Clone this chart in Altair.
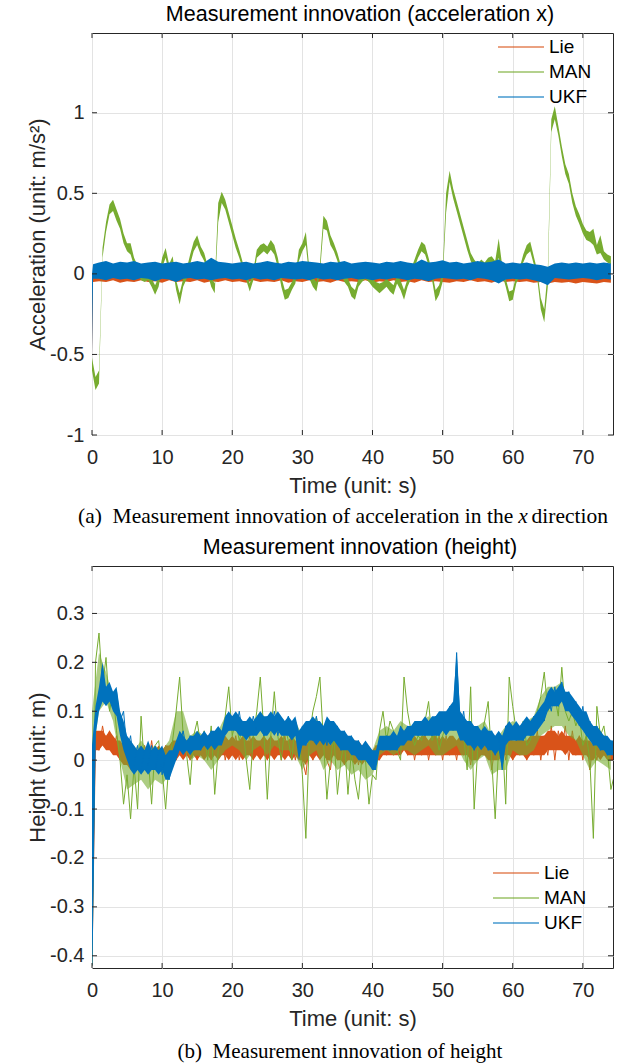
import altair as alt
import pandas as pd

FONT = "Liberation Sans"
SERIF = "Liberation Serif"
INK = "#262626"
GRID = "#e3e3e3"

SERIES = ["Lie", "MAN", "UKF"]
COLORS = {"Lie": "#D95319", "MAN": "#77AC30", "UKF": "#0072BD"}

X_TICKS = [0, 10, 20, 30, 40, 50, 60, 70]
TOP_Y_TICKS = [-1, -0.5, 0, 0.5, 1]
BOT_Y_TICKS = [-0.4, -0.3, -0.2, -0.1, 0, 0.1, 0.2, 0.3]
X_DOMAIN = [0, 74.3]
TOP_Y_DOMAIN = [-1, 1.495]
BOT_Y_DOMAIN = [-0.425, 0.397]

# ---------------- top panel (acceleration x): envelopes ----
T_BAND = [0.0, 0.15] + [float(s) for s in range(1, 75)]
LIE_TOP_LO = [-0.5, -0.05,
              -0.045, -0.05, -0.04, -0.055, -0.045, -0.05, -0.04, -0.05, -0.045, -0.055,
              -0.04, -0.05, -0.045, -0.05, -0.04, -0.055, -0.045, -0.05, -0.04, -0.05,
              -0.045, -0.055, -0.04, -0.05, -0.045, -0.05, -0.04, -0.055, -0.045, -0.05,
              -0.04, -0.05, -0.045, -0.055, -0.04, -0.05, -0.045, -0.05, -0.04, -0.055,
              -0.045, -0.05, -0.04, -0.05, -0.045, -0.055, -0.04, -0.05, -0.045, -0.05,
              -0.055, -0.045, -0.05, -0.04, -0.05, -0.045, -0.055, -0.04, -0.05, -0.045,
              -0.05, -0.045, -0.055, -0.05, -0.06, -0.05, -0.055, -0.05, -0.06, -0.05,
              -0.055, -0.06, -0.05, -0.055]
LIE_TOP_HI = [0.0, -0.01,
              -0.01, 0.0, -0.015, -0.005, -0.01, 0.0, -0.01, -0.015, 0.0, -0.01,
              -0.005, 0.01, -0.01, -0.005, 0.0, -0.01, -0.005, 0.02, -0.01, 0.0,
              -0.01, -0.005, 0.0, -0.01, -0.015, 0.0, -0.01, -0.005, 0.0, -0.01,
              -0.005, 0.0, 0.015, -0.01, -0.005, 0.0, -0.01, -0.005, 0.0, -0.01,
              -0.005, 0.0, -0.01, -0.005, 0.0, -0.01, -0.005, 0.0, -0.01, 0.01,
              -0.005, 0.0, -0.01, -0.005, 0.0, -0.01, -0.005, 0.0, -0.01, -0.005,
              -0.01, -0.015, -0.01, -0.015, -0.02, -0.02, -0.015, -0.02, -0.015, -0.02,
              -0.015, -0.02, -0.015, -0.02]
UKF_TOP_LO = [-0.5, -0.03,
              -0.03, -0.04, -0.025, -0.035, -0.03, -0.04, -0.025, -0.03, -0.045, -0.03,
              -0.035, -0.05, -0.03, -0.025, -0.035, -0.03, -0.04, -0.03, -0.025, -0.035,
              -0.03, -0.04, -0.025, -0.035, -0.03, -0.04, -0.025, -0.03, -0.035, -0.03,
              -0.04, -0.025, -0.035, -0.03, -0.04, -0.03, -0.025, -0.035, -0.03, -0.04,
              -0.03, -0.035, -0.025, -0.03, -0.04, -0.03, -0.035, -0.045, -0.03, -0.025,
              -0.03, -0.035, -0.03, -0.04, -0.025, -0.03, -0.04, -0.06, -0.035, -0.03,
              -0.035, -0.03, -0.04, -0.05, -0.07, -0.025, -0.03, -0.035, -0.03, -0.025,
              -0.03, -0.04, -0.03, -0.035]
UKF_TOP_HI = [0.0, 0.06,
              0.07, 0.08, 0.065, 0.075, 0.07, 0.08, 0.065, 0.07, 0.075, 0.065,
              0.07, 0.075, 0.065, 0.07, 0.08, 0.07, 0.1, 0.075, 0.07, 0.065,
              0.07, 0.075, 0.065, 0.07, 0.08, 0.07, 0.065, 0.075, 0.07, 0.08,
              0.075, 0.07, 0.065, 0.075, 0.07, 0.08, 0.065, 0.07, 0.075, 0.07,
              0.065, 0.075, 0.07, 0.08, 0.07, 0.065, 0.09, 0.07, 0.075, 0.085,
              0.07, 0.075, 0.065, 0.07, 0.08, 0.07, 0.075, 0.09, 0.065, 0.07,
              0.065, 0.07, 0.06, 0.055, 0.045, 0.065, 0.07, 0.065, 0.07, 0.065,
              0.07, 0.065, 0.07, 0.065]

T_MAN = [i * 0.5 for i in range(149)]
MAN_TOP_LO = [-0.60, -0.72, -0.68, 0.10, 0.26, 0.37, 0.39, 0.33, 0.28, 0.19,
              0.14, 0.12, 0.05, 0.00, -0.04, -0.05, -0.04, -0.08, -0.13, -0.08,
              0.04, 0.10, 0.00, 0.04, -0.10, -0.19, -0.08, -0.03, 0.06, 0.14,
              0.18, 0.12, 0.08, 0.00, -0.08, -0.12, 0.32, 0.44, 0.40, 0.32,
              0.24, 0.16, 0.10, 0.03, -0.04, -0.11, -0.04, 0.10, 0.12, 0.14,
              0.12, 0.15, 0.12, 0.04, -0.08, -0.16, -0.15, -0.10, -0.06, 0.08,
              0.14, 0.18, -0.03, -0.08, -0.11, 0.00, 0.28, 0.27, 0.18, 0.14,
              0.08, 0.00, -0.05, -0.08, -0.14, -0.16, -0.08, -0.05, -0.03, -0.05,
              -0.08, -0.10, -0.12, -0.10, -0.08, -0.11, -0.13, -0.06, -0.10, -0.16,
              -0.08, -0.03, 0.04, 0.10, 0.14, 0.12, 0.05, -0.04, -0.17, -0.13,
              -0.05, 0.38, 0.57, 0.47, 0.39, 0.31, 0.23, 0.15, 0.08, 0.04,
              0.00, 0.04, 0.02, 0.05, 0.06, 0.02, 0.10, 0.00, -0.08, -0.17,
              -0.16, -0.06, -0.01, 0.07, 0.12, 0.14, 0.06, -0.03, -0.22, -0.30,
              -0.08, 0.88, 0.96, 0.86, 0.73, 0.62, 0.56, 0.44, 0.36, 0.31,
              0.25, 0.21, 0.20, 0.18, 0.12, 0.13, 0.09, 0.07, 0.06]
MAN_TOP_HI = [-0.52, -0.64, -0.60, 0.16, 0.32, 0.43, 0.46, 0.40, 0.34, 0.25,
              0.19, 0.19, 0.10, 0.05, 0.01, 0.00, 0.02, -0.03, -0.07, -0.02,
              0.10, 0.16, 0.06, 0.11, -0.04, -0.12, -0.03, 0.03, 0.12, 0.20,
              0.24, 0.17, 0.13, 0.05, -0.02, -0.06, 0.44, 0.51, 0.46, 0.38,
              0.30, 0.22, 0.15, 0.07, 0.01, -0.06, 0.02, 0.15, 0.18, 0.19,
              0.17, 0.21, 0.18, 0.10, -0.02, -0.10, -0.09, -0.05, -0.01, 0.15,
              0.19, 0.26, 0.03, -0.02, -0.05, 0.06, 0.36, 0.33, 0.24, 0.19,
              0.13, 0.05, 0.01, -0.03, -0.08, -0.10, -0.03, 0.01, 0.02, 0.01,
              -0.03, -0.05, -0.06, -0.05, -0.03, -0.05, -0.07, -0.01, -0.04, -0.10,
              -0.03, 0.03, 0.09, 0.15, 0.20, 0.18, 0.10, 0.01, -0.10, -0.07,
              0.01, 0.50, 0.64, 0.53, 0.45, 0.37, 0.29, 0.21, 0.13, 0.09,
              0.06, 0.09, 0.07, 0.10, 0.11, 0.08, 0.22, 0.05, -0.03, -0.11,
              -0.10, -0.01, 0.04, 0.12, 0.18, 0.20, 0.11, 0.02, -0.15, -0.22,
              0.02, 0.96, 1.04, 0.92, 0.79, 0.68, 0.62, 0.50, 0.42, 0.37,
              0.31, 0.27, 0.26, 0.28, 0.18, 0.24, 0.14, 0.12, 0.11]

# ---------------- bottom panel (height) ----
T_BOT = [i * 0.5 for i in range(150)]
T_BOT_1S = [float(s) for s in range(75)]
# noisy traces, every 0.5 s
LIE_BOT = [-0.42, 0.05, 0.02, 0.07, 0.03, 0.06, 0.02, 0.05, 0.00, 0.04,
           -0.01, 0.03, -0.02, 0.02, -0.01, 0.03, -0.02, 0.04, -0.01, 0.02,
           -0.02, 0.03, -0.01, 0.04, 0.00, 0.05, 0.01, 0.04, 0.00, 0.04,
           0.00, 0.04, 0.01, 0.05, 0.00, 0.04, 0.01, 0.05, 0.00, 0.04,
           0.01, 0.05, 0.00, 0.04, 0.01, 0.05, 0.00, 0.04, 0.01, 0.05,
           0.00, 0.05, 0.01, 0.04, 0.00, 0.05, 0.01, 0.04, 0.00, 0.05,
           0.00, -0.03, 0.04, 0.00, 0.05, 0.01, 0.04, 0.00, -0.02, 0.04,
           0.00, 0.04, -0.01, 0.03, 0.00, 0.04, -0.01, 0.03, 0.00, 0.02,
           -0.01, 0.03, 0.00, 0.04, 0.01, 0.05, 0.01, 0.04, 0.01, 0.06,
           0.01, 0.05, 0.00, 0.04, 0.01, 0.05, 0.00, 0.04, 0.01, 0.05,
           0.00, 0.05, 0.01, 0.04, 0.00, 0.05, 0.01, 0.04, -0.01, 0.04,
           0.00, 0.04, 0.01, 0.05, -0.02, 0.03, 0.00, 0.04, 0.00, 0.05,
           0.00, 0.04, 0.01, 0.05, 0.00, 0.04, 0.01, 0.06, 0.00, 0.05,
           0.01, 0.07, 0.00, 0.06, 0.02, 0.07, 0.00, 0.06, 0.01, 0.05,
           0.00, 0.05, -0.02, 0.04, 0.00, 0.04, 0.01, 0.04, 0.00, 0.03]
MAN_BOT = [-0.42, 0.20, 0.26, 0.15, 0.21, 0.10, 0.14, 0.06, 0.00, -0.09,
           -0.03, -0.12, -0.01, -0.10, 0.09, -0.02, 0.01, -0.09, 0.03, 0.04,
           -0.02, -0.10, 0.00, 0.04, 0.10, 0.17, 0.05, 0.01, -0.05, 0.05,
           0.08, 0.03, 0.06, 0.00, 0.07, -0.07, 0.02, 0.05, 0.09, 0.15,
           0.05, 0.08, 0.04, 0.07, 0.00, -0.06, 0.05, 0.10, 0.17, 0.06,
           -0.08, 0.05, 0.14, 0.05, 0.00, 0.07, 0.04, 0.00, 0.08, 0.05,
           -0.03, -0.16, 0.05, 0.10, 0.13, 0.17, 0.04, -0.08, 0.00, 0.05,
           -0.07, 0.00, 0.04, -0.07, 0.02, -0.04, -0.08, 0.01, 0.00, -0.09,
           -0.03, -0.04, 0.06, 0.10, 0.04, 0.08, 0.06, 0.02, 0.00, 0.17,
           0.10, 0.06, 0.03, 0.05, 0.04, 0.08, 0.12, 0.04, 0.06, 0.02,
           0.05, 0.07, 0.09, 0.06, 0.13, 0.08, 0.05, -0.02, 0.15, -0.10,
           0.02, 0.05, 0.08, 0.12, 0.00, -0.12, 0.03, 0.05, -0.09, 0.17,
           0.11, 0.06, 0.05, 0.08, 0.03, 0.04, 0.07, 0.10, 0.13, 0.18,
           0.10, 0.12, 0.13, 0.09, 0.19, 0.10, 0.08, 0.10, 0.07, 0.09,
           0.03, 0.05, 0.00, -0.16, 0.11, 0.05, 0.07, 0.02, -0.06, -0.03]
UKF_BOT = [-0.42, 0.09, 0.12, 0.19, 0.12, 0.15, 0.12, 0.14, 0.08, 0.10,
           0.02, 0.05, -0.01, 0.03, -0.02, 0.02, -0.01, 0.03, -0.02, 0.02,
           -0.03, 0.01, -0.04, 0.00, 0.01, 0.03, 0.06, 0.02, 0.05, 0.02,
           0.05, 0.02, 0.05, 0.03, 0.06, 0.03, 0.05, 0.04, 0.08, 0.06,
           0.09, 0.06, 0.10, 0.05, 0.08, 0.05, 0.09, 0.06, 0.08, 0.05,
           0.09, 0.06, 0.10, 0.05, 0.08, 0.06, 0.09, 0.05, 0.08, 0.02,
           0.07, 0.03, 0.08, 0.04, 0.09, 0.04, 0.07, 0.03, 0.08, 0.04,
           0.07, 0.02, 0.06, 0.03, 0.05, 0.01, 0.04, 0.00, 0.03, 0.01,
           -0.02, 0.01, 0.04, 0.02, 0.05, 0.02, 0.05, 0.02, 0.07, 0.04,
           0.07, 0.04, 0.07, 0.05, 0.08, 0.05, 0.08, 0.05, 0.09, 0.05,
           0.09, 0.06, 0.11, 0.07, 0.22, 0.06, 0.10, 0.04, 0.08, 0.02,
           0.07, 0.03, 0.06, 0.02, 0.06, 0.01, 0.05, -0.02, 0.07, 0.04,
           0.07, 0.04, 0.07, 0.04, 0.08, 0.05, 0.09, 0.06, 0.10, 0.08,
           0.13, 0.10, 0.15, 0.11, 0.16, 0.11, 0.14, 0.09, 0.12, 0.07,
           0.11, 0.05, 0.08, 0.03, 0.07, 0.02, 0.05, 0.01, 0.04, 0.02]
# dense cores of the bands, every 0.5 s
LIE_BOT_LO = [-0.42, 0.02, 0.02, 0.03, 0.02, 0.02, 0.01, 0.01, 0.00, -0.01,
              -0.01, -0.02, -0.01, -0.02, -0.01, -0.01, -0.02, -0.01, -0.02, -0.01,
              -0.02, -0.01, -0.01, 0.00, 0.00, 0.01, 0.00, 0.01, 0.00, 0.01,
              0.00, 0.01, 0.00, 0.01, 0.00, 0.01, 0.00, 0.01, 0.01, 0.00,
              0.01, 0.00, 0.01, 0.00, 0.01, 0.01, 0.00, 0.01, 0.00, 0.01,
              0.00, 0.01, 0.00, 0.01, 0.01, 0.00, 0.01, 0.00, 0.01, 0.00,
              0.00, -0.01, 0.01, 0.00, 0.01, 0.00, 0.01, 0.00, 0.00, 0.01,
              0.00, 0.00, -0.01, 0.00, 0.00, -0.01, 0.00, -0.01, 0.00, -0.01,
              -0.01, 0.00, 0.00, 0.01, 0.01, 0.01, 0.01, 0.01, 0.01, 0.02,
              0.01, 0.01, 0.01, 0.01, 0.01, 0.01, 0.01, 0.01, 0.01, 0.01,
              0.01, 0.01, 0.01, 0.01, 0.01, 0.01, 0.01, 0.01, 0.00, 0.00,
              0.00, 0.01, 0.01, 0.00, 0.00, 0.00, 0.00, 0.01, 0.01, 0.01,
              0.00, 0.01, 0.01, 0.01, 0.00, 0.01, 0.01, 0.01, 0.01, 0.01,
              0.02, 0.02, 0.02, 0.02, 0.02, 0.01, 0.02, 0.01, 0.01, 0.01,
              0.01, 0.01, 0.00, 0.00, 0.01, 0.00, 0.01, 0.00, 0.00, 0.00]
LIE_BOT_HI = [0.03, 0.06, 0.06, 0.06, 0.05, 0.06, 0.05, 0.04, 0.04, 0.03,
              0.02, 0.03, 0.02, 0.02, 0.03, 0.02, 0.03, 0.02, 0.02, 0.03,
              0.02, 0.03, 0.03, 0.04, 0.04, 0.05, 0.04, 0.04, 0.03, 0.04,
              0.04, 0.04, 0.03, 0.04, 0.04, 0.05, 0.04, 0.04, 0.05, 0.04,
              0.05, 0.04, 0.04, 0.05, 0.04, 0.04, 0.05, 0.04, 0.04, 0.05,
              0.04, 0.05, 0.04, 0.04, 0.05, 0.04, 0.04, 0.05, 0.04, 0.04,
              0.04, 0.03, 0.04, 0.05, 0.04, 0.04, 0.05, 0.04, 0.03, 0.04,
              0.04, 0.03, 0.03, 0.04, 0.03, 0.03, 0.04, 0.03, 0.03, 0.02,
              0.02, 0.03, 0.03, 0.04, 0.04, 0.04, 0.05, 0.04, 0.05, 0.05,
              0.05, 0.04, 0.05, 0.04, 0.05, 0.05, 0.04, 0.05, 0.05, 0.04,
              0.05, 0.04, 0.05, 0.05, 0.04, 0.05, 0.04, 0.04, 0.04, 0.04,
              0.04, 0.04, 0.05, 0.04, 0.03, 0.04, 0.04, 0.04, 0.05, 0.05,
              0.04, 0.04, 0.05, 0.04, 0.04, 0.05, 0.05, 0.05, 0.05, 0.05,
              0.06, 0.06, 0.06, 0.05, 0.06, 0.05, 0.05, 0.05, 0.04, 0.05,
              0.04, 0.04, 0.04, 0.03, 0.04, 0.04, 0.04, 0.03, 0.03, 0.03]
UKF_BOT_LO = [-0.42, 0.05, 0.10, 0.12, 0.11, 0.12, 0.10, 0.09, 0.05, 0.02,
              0.00, -0.02, -0.03, -0.02, -0.03, -0.02, -0.03, -0.02, -0.02, -0.03,
              -0.02, -0.04, -0.04, -0.02, 0.00, 0.02, 0.01, 0.02, 0.01, 0.02,
              0.02, 0.02, 0.03, 0.02, 0.03, 0.02, 0.03, 0.03, 0.05, 0.06,
              0.06, 0.06, 0.05, 0.05, 0.04, 0.05, 0.05, 0.05, 0.06, 0.05,
              0.05, 0.06, 0.05, 0.06, 0.05, 0.05, 0.05, 0.04, 0.05, 0.00,
              0.03, 0.03, 0.04, 0.04, 0.03, 0.04, 0.03, 0.04, 0.03, 0.04,
              0.03, 0.02, 0.02, 0.02, 0.01, 0.01, 0.00, 0.00, 0.00, -0.01,
              -0.02, -0.02, 0.02, 0.02, 0.02, 0.02, 0.02, 0.02, 0.03, 0.03,
              0.04, 0.04, 0.05, 0.05, 0.05, 0.05, 0.05, 0.05, 0.05, 0.05,
              0.06, 0.05, 0.06, 0.06, 0.06, 0.04, 0.04, 0.03, 0.03, 0.02,
              0.03, 0.02, 0.03, 0.02, 0.02, 0.01, 0.02, -0.02, 0.03, 0.04,
              0.04, 0.04, 0.04, 0.04, 0.05, 0.05, 0.05, 0.06, 0.07, 0.08,
              0.10, 0.11, 0.11, 0.11, 0.12, 0.10, 0.10, 0.09, 0.08, 0.07,
              0.06, 0.05, 0.04, 0.03, 0.03, 0.02, 0.02, 0.01, 0.01, 0.01]
UKF_BOT_HI = [0.03, 0.11, 0.15, 0.20, 0.15, 0.16, 0.14, 0.15, 0.10, 0.08,
              0.05, 0.04, 0.03, 0.02, 0.03, 0.02, 0.04, 0.02, 0.03, 0.02,
              0.03, 0.01, 0.02, 0.02, 0.04, 0.06, 0.05, 0.04, 0.05, 0.05,
              0.06, 0.05, 0.06, 0.05, 0.06, 0.06, 0.07, 0.06, 0.09, 0.10,
              0.09, 0.10, 0.09, 0.08, 0.08, 0.09, 0.08, 0.09, 0.10, 0.09,
              0.09, 0.10, 0.09, 0.10, 0.09, 0.08, 0.09, 0.08, 0.09, 0.06,
              0.07, 0.08, 0.08, 0.09, 0.08, 0.08, 0.07, 0.09, 0.08, 0.08,
              0.07, 0.06, 0.06, 0.05, 0.05, 0.04, 0.04, 0.03, 0.04, 0.03,
              0.02, 0.02, 0.05, 0.05, 0.05, 0.05, 0.06, 0.05, 0.07, 0.06,
              0.07, 0.07, 0.08, 0.08, 0.08, 0.09, 0.08, 0.09, 0.09, 0.10,
              0.10, 0.10, 0.11, 0.12, 0.22, 0.10, 0.09, 0.08, 0.08, 0.07,
              0.07, 0.06, 0.07, 0.06, 0.06, 0.05, 0.06, 0.05, 0.07, 0.08,
              0.07, 0.08, 0.07, 0.08, 0.09, 0.08, 0.09, 0.10, 0.11, 0.12,
              0.14, 0.15, 0.14, 0.15, 0.16, 0.14, 0.14, 0.13, 0.12, 0.11,
              0.10, 0.10, 0.08, 0.07, 0.07, 0.06, 0.05, 0.05, 0.04, 0.04]
# green fuzz around the bands, every 1 s
MAN_BOT_LO = [0.00, 0.10, 0.12, 0.08, 0.00, -0.06, -0.05, -0.04, -0.06, -0.04,
              -0.05, -0.03, 0.02, 0.04, 0.00, 0.01, 0.00, -0.02, 0.00, 0.02,
              0.03, 0.02, 0.00, 0.02, 0.03, 0.01, 0.03, 0.02, 0.02, 0.01,
              -0.02, 0.01, 0.02, -0.02, 0.00, -0.02, -0.01, -0.03, -0.02, -0.04,
              -0.03, 0.01, 0.02, 0.01, 0.02, 0.02, 0.01, 0.02, 0.03, 0.01,
              0.01, 0.02, 0.03, 0.00, -0.02, 0.00, 0.01, -0.03, -0.02, -0.02,
              0.02, 0.01, 0.01, 0.02, 0.05, 0.06, 0.07, 0.07, 0.05, 0.04,
              0.01, -0.02, 0.00, -0.01, -0.02]
MAN_BOT_HI = [0.10, 0.22, 0.18, 0.13, 0.07, 0.03, 0.02, 0.04, 0.02, 0.03,
              0.02, 0.04, 0.10, 0.10, 0.05, 0.06, 0.05, 0.05, 0.06, 0.09,
              0.09, 0.08, 0.06, 0.08, 0.10, 0.08, 0.09, 0.08, 0.07, 0.08,
              0.05, 0.07, 0.09, 0.05, 0.06, 0.05, 0.05, 0.04, 0.03, 0.02,
              0.02, 0.06, 0.07, 0.06, 0.08, 0.07, 0.07, 0.08, 0.09, 0.07,
              0.07, 0.08, 0.10, 0.07, 0.06, 0.07, 0.08, 0.05, 0.05, 0.07,
              0.08, 0.07, 0.08, 0.09, 0.13, 0.15, 0.15, 0.16, 0.12, 0.10,
              0.06, 0.05, 0.07, 0.05, 0.03]

W = 521
H1 = 402
H2 = 402


def x_axis():
    return alt.Axis(values=X_TICKS, title="Time (unit: s)", grid=True, gridColor=GRID,
                    gridWidth=1, domain=False, ticks=False, labelFont=FONT,
                    labelFontSize=20, labelColor=INK, labelPadding=12, labelFlush=False,
                    labelOverlap=False, labelExpr="'' + datum.value",
                    titleFont=FONT, titleFontSize=22, titleColor=INK,
                    titleFontWeight="normal", titlePadding=8)


def y_axis(title, ticks):
    return alt.Axis(values=ticks, title=title, grid=True, gridColor=GRID, gridWidth=1,
                    domain=False, ticks=False, labelFont=FONT, labelFontSize=20,
                    labelColor=INK, labelPadding=8, labelFlush=False, labelOverlap=False,
                    labelExpr="'' + datum.value", titleFont=FONT, titleFontSize=22,
                    titleColor=INK, titleFontWeight="normal", titlePadding=0)


def xe(field):
    return alt.X(field, type="quantitative",
                 scale=alt.Scale(domain=X_DOMAIN, nice=False, zero=False), axis=x_axis())


def ye(field, domain, title, ticks):
    return alt.Y(field, type="quantitative",
                 scale=alt.Scale(domain=domain, nice=False, zero=False),
                 axis=y_axis(title, ticks))


def tick_layers(yfield_enc, yticks, h):
    xt = pd.DataFrame({"v": X_TICKS})
    yt = pd.DataFrame({"v": yticks})
    rule = dict(color=INK, strokeWidth=1)
    return [
        alt.Chart(xt).mark_rule(**rule).encode(x=xe("v"), y=alt.value(h), y2=alt.value(h - 5)),
        alt.Chart(xt).mark_rule(**rule).encode(x=xe("v"), y=alt.value(0), y2=alt.value(5)),
        alt.Chart(yt).mark_rule(**rule).encode(y=yfield_enc("v"), x=alt.value(0), x2=alt.value(5)),
        alt.Chart(yt).mark_rule(**rule).encode(y=yfield_enc("v"), x=alt.value(W), x2=alt.value(W - 5)),
    ]


def legend_layers(x_line, x_text, y0):
    out = []
    one = pd.DataFrame({"k": [0]})
    for i, s in enumerate(SERIES):
        yy = y0 + 25 * i
        out.append(alt.Chart(one).mark_rule(color=COLORS[s], opacity=0.55, strokeWidth=2).encode(
            x=alt.value(x_line), x2=alt.value(x_line + 46), y=alt.value(yy)))
        out.append(alt.Chart(one).mark_text(font=FONT, fontSize=19, align="left",
                                            baseline="middle", color="#000000").encode(
            x=alt.value(x_text), y=alt.value(yy), text=alt.value(s)))
    return out


def text_layer(txt, x, y, font, size, align="center", style="normal"):
    return alt.Chart(pd.DataFrame({"c": [txt]})).mark_text(
        font=font, fontSize=size, align=align, baseline="middle", color="#000000",
        fontStyle=style).encode(x=alt.value(x), y=alt.value(y), text="c:N")


# ---------------- top chart ----------------
def ye_top(f):
    return ye(f, TOP_Y_DOMAIN, "Acceleration (unit: m/s\u00b2)", TOP_Y_TICKS)


top_layers = []
band_data = {
    "Lie": (T_BAND, LIE_TOP_LO, LIE_TOP_HI),
    "MAN": (T_MAN, MAN_TOP_LO, MAN_TOP_HI),
    "UKF": (T_BAND, UKF_TOP_LO, UKF_TOP_HI),
}
for s in SERIES:
    t, lo, hi = band_data[s]
    df = pd.DataFrame({"t": t, "lo": lo, "hi": hi})
    top_layers.append(alt.Chart(df).mark_area(color=COLORS[s], opacity=1, clip=True).encode(
        x=xe("t"), y=ye_top("lo"), y2="hi"))
top_layers += tick_layers(ye_top, TOP_Y_TICKS, H1)
top_layers += legend_layers(406, 457, 14)
top_layers.append(text_layer("Measurement innovation (acceleration x)", 268, -18, FONT, 21.5))
top_layers.append(text_layer("(a)\u00a0 Measurement innovation of acceleration in the", -14, H1 + 82,
                             SERIF, 21.5, align="left"))
top_layers.append(text_layer("x", 431, H1 + 82, SERIF, 21.5, style="italic"))
top_layers.append(text_layer("direction", 516, H1 + 82, SERIF, 21.5, align="right"))
top = alt.layer(*top_layers).properties(width=W, height=H1)


# ---------------- bottom chart ----------------
def ye_bot(f):
    return ye(f, BOT_Y_DOMAIN, "Height (unit: m)", BOT_Y_TICKS)


def bot_band(t, lo, hi, color, op=1.0):
    df = pd.DataFrame({"t": t, "lo": lo, "hi": hi})
    return alt.Chart(df).mark_area(color=color, opacity=op, clip=True).encode(
        x=xe("t"), y=ye_bot("lo"), y2="hi")


def bot_line(vals, color):
    df = pd.DataFrame({"t": T_BOT, "v": vals})
    return alt.Chart(df).mark_line(color=color, strokeWidth=1, clip=True).encode(
        x=xe("t"), y=ye_bot("v"))


bot_layers = [
    bot_band(T_BOT, LIE_BOT_LO, LIE_BOT_HI, COLORS["Lie"]),
    bot_line(LIE_BOT, COLORS["Lie"]),
    bot_band(T_BOT_1S, MAN_BOT_LO, MAN_BOT_HI, COLORS["MAN"], 0.6),
    bot_line(MAN_BOT, COLORS["MAN"]),
    bot_band(T_BOT, UKF_BOT_LO, UKF_BOT_HI, COLORS["UKF"]),
    bot_line(UKF_BOT, COLORS["UKF"]),
]
bot_layers += tick_layers(ye_bot, BOT_Y_TICKS, H2)
bot_layers += legend_layers(401, 452, 307)
bot_layers.append(text_layer("Measurement innovation (height)", 268, -18, FONT, 21.5))
bot_layers.append(text_layer("(b)\u00a0 Measurement innovation of height", 248, H2 + 84, SERIF, 21))
bot = alt.layer(*bot_layers).properties(width=W, height=H2)

chart = alt.vconcat(top, bot, spacing=8).resolve_scale(
    x="independent", y="independent").properties(
    padding={"left": 26, "top": 3, "right": 6, "bottom": 0}).configure_view(
    stroke=INK, strokeWidth=1)

chart.save("out.html", embed_options={"renderer": "svg", "actions": False})
